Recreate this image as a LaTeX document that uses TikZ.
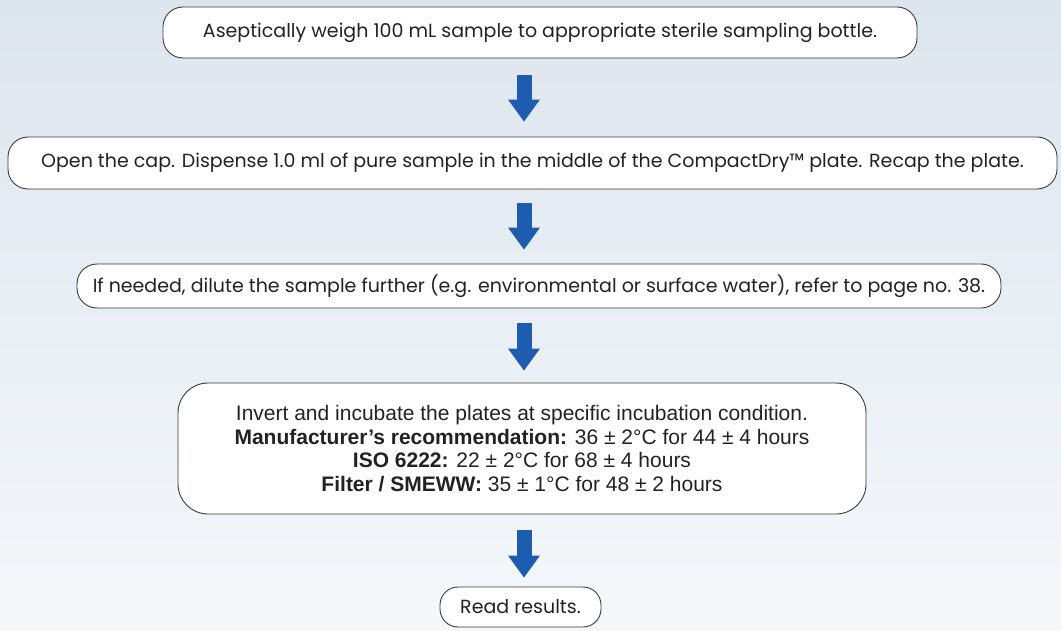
\documentclass[tikz,border=0pt]{standalone}
\usepackage{fontspec}
\setmainfont{Poppins}
\newfontfamily\arialf{Liberation Sans}
\usetikzlibrary{arrows.meta}
\definecolor{bgtop}{HTML}{DDE5EE}
\definecolor{bgbot}{HTML}{F5F8FB}
\definecolor{arrblue}{HTML}{1D5CAE}
\definecolor{edge}{HTML}{3A3A3A}
\definecolor{txt}{HTML}{222222}
\begin{document}
\begin{tikzpicture}[x=1pt,y=-1pt,
  stepbox/.style={draw=edge, line width=0.9pt, fill=white, rounded corners=20pt,
    inner sep=0pt, text=txt, font=\fontsize{19}{22}\selectfont},
  flow/.style={draw=arrblue, line width=15pt,
    -{Triangle[width=32pt,length=22pt,line width=0pt]}}]
\shade[top color=bgtop, bottom color=bgbot] (0,0) rectangle (1061,631);
\useasboundingbox (0,0) rectangle (1061,631);
\coordinate (ax) at (524,0);
\node[stepbox, minimum width=754pt, minimum height=51pt] (b1) at (540,32.5)
  {Aseptically weigh 100 mL sample to appropriate sterile sampling bottle.};
\node[stepbox, minimum width=1049pt, minimum height=52pt] (b2) at (532.5,163)
  {Open the cap. Dispense 1.0 ml of pure sample in the middle of the CompactDry™ plate. Recap the plate.};
\node[stepbox, minimum width=924pt, minimum height=44pt] (b3) at (539,286)
  {If needed, dilute the sample further (e.g. environmental or surface water), refer to page no. 38.};
\node[stepbox, rounded corners=30pt, minimum width=688pt, minimum height=131pt,
  align=center, font=\arialf\fontsize{21}{23.5}\selectfont] (b4) at (522,448.5)
  {Invert and incubate the plates at specific incubation condition.\\
   \textbf{Manufacturer’s recommendation:} 36 ± 2°C for 44 ± 4 hours\\
   \textbf{ISO 6222:} 22 ± 2°C for 68 ± 4 hours\\
   \textbf{Filter / SMEWW:} 35 ± 1°C for 48 ± 2 hours};
\node[stepbox, rounded corners=18pt, minimum width=161pt, minimum height=40pt] (b5) at (520.5,607)
  {Read results.};
\draw[flow, shorten <=17pt, shorten >=15pt] (b1.south -| ax) -- (b2.north -| ax);
\draw[flow, shorten <=14pt, shorten >=14pt] (b2.south -| ax) -- (b3.north -| ax);
\draw[flow, shorten <=15pt, shorten >=12pt] (b3.south -| ax) -- (b4.north -| ax);
\draw[flow, shorten <=16pt, shorten >=9pt] (b4.south -| ax) -- (b5.north -| ax);
\end{tikzpicture}
\end{document}
